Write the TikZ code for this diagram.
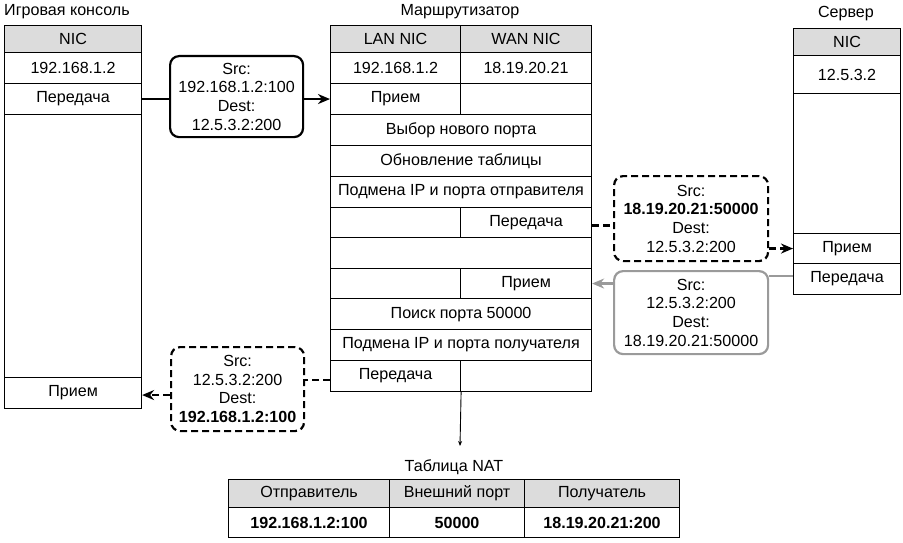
\documentclass[tikz,border=0pt]{standalone}
\usepackage{fontspec}
\setmainfont{Liberation Sans}
\usetikzlibrary{arrows.meta}
\newcommand\fs{\fontsize{16.1}{18.7}\selectfont}
\definecolor{hdrgray}{HTML}{DCDCDC}
\definecolor{pktgray}{HTML}{9A9A9A}
\tikzset{
  cell/.style={draw, line width=1.1pt, inner sep=0pt, anchor=north west, font=\fs},
  hdr/.style={cell, fill=hdrgray},
  packet/.style={draw, rounded corners=9pt, line width=2.2pt, align=center, inner sep=0pt, anchor=north west, font=\fs},
  dashline/.style={line width=2.2pt, dash pattern=on 7pt off 4pt},
  solidline/.style={line width=2.2pt},
  tip/.style={-{Stealth[length=12pt,width=10pt]}},
  ttl/.style={font=\fs, inner sep=0pt}
}
\begin{document}
\begin{tikzpicture}[x=1pt,y=-1pt]
\useasboundingbox[fill=white] (0,0) rectangle (903,543);
% titles
\node[ttl, anchor=west] (tC) at (4,12) {Игровая консоль};
\node[ttl] (tR) at (460,12) {Маршрутизатор};
\node[ttl] (tS) at (846,14) {Сервер};
% console
\node[hdr, minimum width=137pt, minimum height=27pt] (cH) at (4,25) {NIC};
\node[cell, minimum width=137pt, minimum height=31pt] (cIP) at (4,52) {192.168.1.2};
\node[cell, minimum width=137pt, minimum height=31pt] (cTx) at (4,83) {Передача};
\node[cell, minimum width=137pt, minimum height=263pt] (cE) at (4,114) {};
\node[cell, minimum width=137pt, minimum height=31pt] (cRx) at (4,377) {Прием};
% router
\node[hdr, minimum width=130pt, minimum height=27pt] (rH1) at (330,25) {LAN NIC};
\node[hdr, minimum width=131pt, minimum height=27pt] (rH2) at (460,25) {WAN NIC};
\node[cell, minimum width=130pt, minimum height=31pt] (rIP1) at (330,52) {192.168.1.2};
\node[cell, minimum width=131pt, minimum height=31pt] (rIP2) at (460,52) {18.19.20.21};
\node[cell, minimum width=130pt, minimum height=31pt] (rRx1) at (330,83) {Прием};
\node[cell, minimum width=131pt, minimum height=31pt] (rRx1b) at (460,83) {};
\node[cell, minimum width=261pt, minimum height=31pt] (rSel) at (330,114) {Выбор нового порта};
\node[cell, minimum width=261pt, minimum height=31pt] (rUpd) at (330,145) {Обновление таблицы};
\node[cell, minimum width=261pt, minimum height=31pt] (rSub1) at (330,176) {Подмена IP и порта отправителя};
\node[cell, minimum width=130pt, minimum height=30pt] (rTx1a) at (330,207) {};
\node[cell, minimum width=131pt, minimum height=30pt] (rTx1) at (460,207) {Передача};
\node[cell, minimum width=261pt, minimum height=31pt] (rEmp) at (330,237) {};
\node[cell, minimum width=130pt, minimum height=30pt] (rRx2a) at (330,268) {};
\node[cell, minimum width=131pt, minimum height=30pt] (rRx2) at (460,268) {Прием};
\node[cell, minimum width=261pt, minimum height=31pt] (rFind) at (330,298) {Поиск порта 50000};
\node[cell, minimum width=261pt, minimum height=31pt] (rSub2) at (330,329) {Подмена IP и порта получателя};
\node[cell, minimum width=130pt, minimum height=31pt] (rTx2) at (330,360) {Передача};
\node[cell, minimum width=131pt, minimum height=31pt] (rTx2b) at (460,360) {};
% server
\node[hdr, minimum width=107pt, minimum height=27pt] (sH) at (793,28) {NIC};
\node[cell, minimum width=107pt, minimum height=38pt] (sIP) at (793,55) {12.5.3.2};
\node[cell, minimum width=107pt, minimum height=140pt] (sE) at (793,93) {};
\node[cell, minimum width=107pt, minimum height=30pt] (sRx) at (793,233) {Прием};
\node[cell, minimum width=107pt, minimum height=31pt] (sTx) at (793,263) {Передача};
% packets
\node[packet, minimum width=133pt, minimum height=81pt] (p1) at (169,55)
  {Src:\\192.168.1.2:100\\Dest:\\12.5.3.2:200};
\node[packet, dashline, minimum width=154pt, minimum height=85pt] (p2) at (613,175)
  {Src:\\\textbf{18.19.20.21:50000}\\Dest:\\12.5.3.2:200};
\node[packet, draw=pktgray, minimum width=154pt, minimum height=83pt] (p3) at (613,270)
  {Src:\\12.5.3.2:200\\Dest:\\18.19.20.21:50000};
\node[packet, dashline, minimum width=133pt, minimum height=84pt] (p4) at (170,346)
  {Src:\\12.5.3.2:200\\Dest:\\\textbf{192.168.1.2:100}};
% connectors
\draw[solidline] (cTx.east) -- (cTx.east -| p1.west);
\draw[solidline, tip] (rRx1.west -| p1.east) -- (rRx1.west);
\draw[dashline] (rTx1.east) ++(0,3) coordinate (d1) -- (d1 -| p2.west);
\draw[dashline, tip] (sRx.west -| p2.east) -- (sRx.west);
\draw[line width=2.2pt, draw=pktgray] (sTx.west) ++(0,-3) coordinate (g1) -- (g1 -| p3.east);
\draw[line width=2.2pt, color=pktgray, -{Stealth[length=12pt,width=10pt]}] (rRx2.east -| p3.west) -- (rRx2.east);
\draw[dashline] (rTx2.west) ++(0,4) coordinate (d2) -- (d2 -| p4.east);
\draw[dashline, tip] (cRx.east -| p4.west) ++(0,2) coordinate (d3) -- (d3 -| cRx.east);
% NAT
\node[ttl] (natT) at (454,467) {Таблица NAT};
\coordinate (natArrow) at (460,446);
\draw[line width=0.9pt, -{Stealth[length=5pt,width=4pt]}] (rTx2.south east) -- (natArrow);
\node[hdr, minimum width=161pt, minimum height=28pt] (n1) at (228,479) {Отправитель};
\node[hdr, minimum width=135pt, minimum height=28pt] (n2) at (389,479) {Внешний порт};
\node[hdr, minimum width=155pt, minimum height=28pt] (n3) at (524,479) {Получатель};
\node[cell, minimum width=161pt, minimum height=30pt] (m1) at (228,507) {\textbf{192.168.1.2:100}};
\node[cell, minimum width=135pt, minimum height=30pt] (m2) at (389,507) {\textbf{50000}};
\node[cell, minimum width=155pt, minimum height=30pt] (m3) at (524,507) {\textbf{18.19.20.21:200}};
\end{tikzpicture}
\end{document}
